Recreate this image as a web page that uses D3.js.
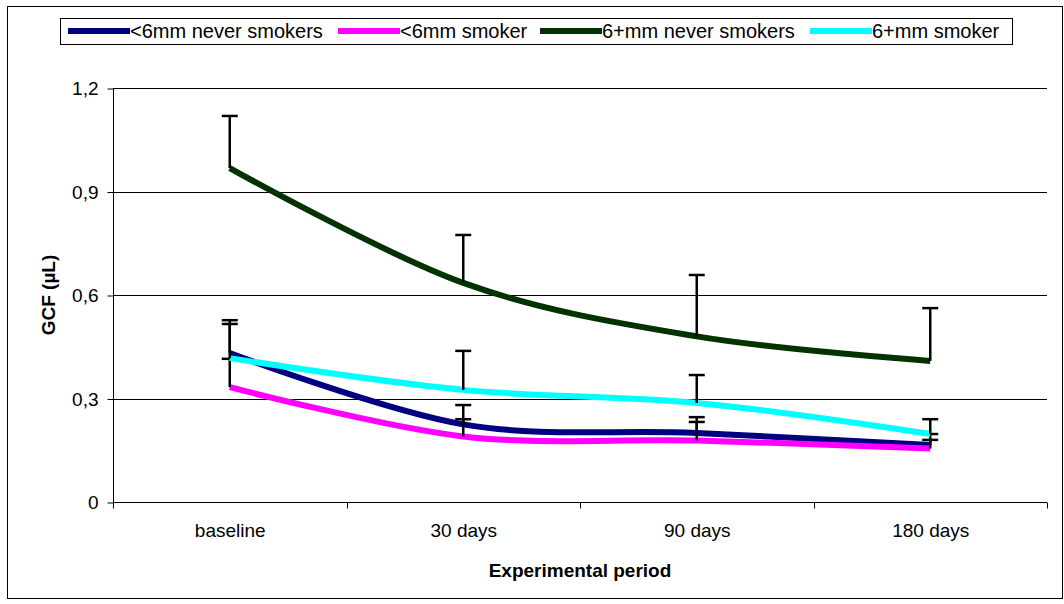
<!DOCTYPE html>
<html>
<head>
<meta charset="utf-8">
<script src="https://cdn.jsdelivr.net/npm/d3@7"></script>
<style>
  body { margin: 0; background: #fff; }
  svg { font-family: "Liberation Sans", Arial, sans-serif; }
</style>
</head>
<body>
<svg id="chart" width="1064" height="604"></svg>
<script>
var periods = ["baseline", "30 days", "90 days", "180 days"];
var seriesNames = ["<6mm never smokers", "<6mm smoker", "6+mm never smokers", "6+mm smoker"];
var seriesColors = ["#000080", "#ff00ff", "#003300", "#00ffff"];

// mean GCF per period
var small_never = [0.432, 0.225, 0.200, 0.165];
var small_smoker = [0.333, 0.190, 0.178, 0.155];
var big_never = [0.968, 0.635, 0.480, 0.409];
var big_smoker = [0.417, 0.325, 0.287, 0.197];

// upper end of error bars
var small_never_err = [0.516, 0.240, 0.246, 0.180];
var small_smoker_err = [0.415, 0.281, 0.232, 0.197];
var big_never_err = [1.119, 0.774, 0.658, 0.562];
var big_smoker_err = [0.527, 0.438, 0.368, 0.240];

var yTicks = [0, 0.3, 0.6, 0.9, 1.2];

!(function (d3) {
  var svg = d3.select("#chart");
  var left = 113, right = 1047, top = 88, bottom = 502;

  var values = [small_never, small_smoker, big_never, big_smoker];
  var errs = [small_never_err, small_smoker_err, big_never_err, big_smoker_err];

  var x = d3.scalePoint().domain(periods).range([left, right]).padding(0.5);
  var y = d3.scaleLinear().domain([0, 1.2]).range([bottom, top]);

  // outer frame
  svg.append("rect")
    .attr("x", 7.5).attr("y", 6.5).attr("width", 1055).attr("height", 592)
    .attr("fill", "none").attr("stroke", "#000").attr("stroke-width", 1);

  // grid
  svg.append("g").selectAll("line")
    .data(yTicks.slice(1))
    .enter().append("line")
    .attr("x1", left).attr("x2", right)
    .attr("y1", function (d) { return Math.round(y(d)) + 0.5; })
    .attr("y2", function (d) { return Math.round(y(d)) + 0.5; })
    .attr("stroke", "#000").attr("stroke-width", 1);

  var yAxis = svg.append("g")
    .attr("transform", "translate(" + (left + 0.5) + ",0.5)")
    .call(d3.axisLeft(y).tickValues(yTicks).tickSizeOuter(0).tickSize(6).tickPadding(9)
      .tickFormat(function (d) { return d3.format(".1f")(d).replace(".", ",").replace(/^0,0$/, "0"); }));
  yAxis.select(".domain").attr("d", "M0," + y(1.2) + "V" + y(0));

  var xAxis = svg.append("g")
    .attr("transform", "translate(0," + (bottom + 0.5) + ")")
    .call(d3.axisBottom(x).tickSize(0).tickPadding(21));
  xAxis.select(".domain").attr("d", "M" + left + ",0H" + right);

  // tick marks between categories
  var step = x.step();
  xAxis.selectAll(".sep")
    .data(d3.range(periods.length + 1))
    .enter().append("line")
    .attr("class", "sep")
    .attr("x1", function (i) { return Math.round(left + i * step) + 0.5; })
    .attr("x2", function (i) { return Math.round(left + i * step) + 0.5; })
    .attr("y1", 0).attr("y2", 6)
    .attr("stroke", "#000");

  svg.selectAll(".tick text").attr("font-size", 19).attr("fill", "#000");
  svg.selectAll(".tick line").attr("stroke", "#000");

  // axis titles
  svg.append("text")
    .attr("x", (left + right) / 2).attr("y", 577)
    .attr("text-anchor", "middle").attr("font-size", 19).attr("font-weight", "bold")
    .text("Experimental period");

  svg.append("text")
    .attr("transform", "translate(55," + ((top + bottom) / 2) + ") rotate(-90)")
    .attr("text-anchor", "middle").attr("font-size", 19).attr("font-weight", "bold")
    .text("GCF (µL)");

  var line = d3.line()
    .x(function (d, i) { return x(periods[i]); })
    .y(function (d) { return y(d); })
    .curve(d3.curveCardinal.tension(0));

  values.forEach(function (vals, s) {
    var g = svg.append("g");
    g.append("path")
      .attr("d", line(vals))
      .attr("fill", "none")
      .attr("stroke", seriesColors[s])
      .attr("stroke-width", 6);

    var bars = g.selectAll(".err")
      .data(errs[s])
      .enter().append("g");
    bars.append("line")
      .attr("x1", function (d, i) { return x(periods[i]); })
      .attr("x2", function (d, i) { return x(periods[i]); })
      .attr("y1", function (d, i) { return y(vals[i]); })
      .attr("y2", function (d) { return y(d); })
      .attr("stroke", "#000").attr("stroke-width", 2.5);
    bars.append("line")
      .attr("x1", function (d, i) { return x(periods[i]) - 8; })
      .attr("x2", function (d, i) { return x(periods[i]) + 8; })
      .attr("y1", function (d) { return y(d); })
      .attr("y2", function (d) { return y(d); })
      .attr("stroke", "#000").attr("stroke-width", 2.5);
  });

  // legend
  var legend = svg.append("g");
  legend.append("rect")
    .attr("x", 60.5).attr("y", 18.5).attr("width", 952).attr("height", 26)
    .attr("fill", "#fff").attr("stroke", "#000");
  var legX = [68, 338, 540, 810];
  var item = legend.selectAll(".item")
    .data(seriesNames)
    .enter().append("g")
    .attr("transform", function (d, i) { return "translate(" + legX[i] + ",31)"; });
  item.append("line")
    .attr("x1", 0).attr("x2", 62).attr("y1", 0).attr("y2", 0)
    .attr("stroke", function (d, i) { return seriesColors[i]; })
    .attr("stroke-width", 6);
  item.append("text")
    .attr("x", 62).attr("y", 7)
    .attr("font-size", 20)
    .text(function (d) { return d; });
})(d3);
</script>
</body>
</html>
